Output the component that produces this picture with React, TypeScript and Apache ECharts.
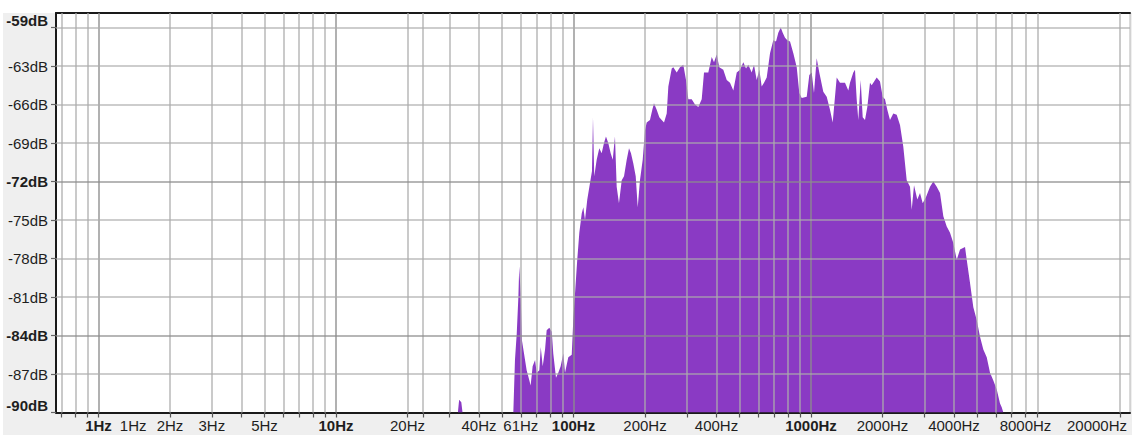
import React, { useEffect, useRef } from "react";
import * as echarts from "echarts";

// Spectrum (frequency in Hz, level in dB)
const specFreq = [
  32.6, 33.0, 33.7, 34.1, 55.8, 56.7, 57.7, 58.6, 59.1, 59.9, 60.7, 61.9, 63.5, 65.2, 66.0, 67.3, 68.9, 70.0,
  71.8, 72.8, 74.2, 75.9, 77.1, 79.1, 81.0, 82.2, 84.4, 86.3, 88.3, 90.6, 92.1, 95.1, 98.3, 99.8, 101.5, 103.7,
  105.8, 108.3, 110.0, 111.8, 114.3, 117.4, 119.6, 120.8, 122.3, 125.2, 128.4, 131.4, 134.4, 137.0, 140.1,
  143.4, 146.3, 149.5, 152.0, 155.4, 159.6, 163.2, 167.5, 171.3, 174.6, 178.6, 182.8, 186.4, 190.5, 195.6,
  200.0, 203.3, 209.9, 214.7, 218.2, 224.0, 229.8, 235.2, 240.5, 246.9, 250.8, 259.2, 263.2, 272.0, 280.8,
  290.0, 297.7, 304.4, 314.6, 324.8, 335.4, 346.6, 354.4, 369.5, 381.9, 390.5, 400.8, 411.1, 427.3, 441.7,
  456.0, 470.9, 486.7, 502.5, 518.8, 532.6, 544.6, 562.8, 575.4, 590.7, 605.8, 620.0, 634.1, 650.9, 672.1,
  693.9, 712.3, 728.4, 745.6, 760.2, 777.4, 794.9, 816.0, 842.6, 870.8, 892.9, 913.9, 959.3, 983.7, 1006.7,
  1029.4, 1056.8, 1083.7, 1126.6, 1164.4, 1202.3, 1234.2, 1282.9, 1324.6, 1390.5, 1435.8, 1459.4, 1506.9,
  1532.0, 1557.3, 1581.9, 1619.1, 1650.8, 1688.1, 1726.2, 1771.7, 1801.3, 1890.6, 1952.0, 2003.9, 2049.2,
  2095.5, 2150.9, 2220.9, 2295.3, 2370.0, 2447.1, 2529.0, 2611.3, 2654.9, 2714.9, 2803.2, 2877.1, 2953.6,
  3049.7, 3170.6, 3273.7, 3383.3, 3493.4, 3607.0, 3727.8, 3849.1, 3974.4, 4107.5, 4241.1, 4451.3, 4525.6,
  4672.8, 4824.8, 4986.3, 5148.5, 5316.0, 5494.0, 5672.8, 5857.3, 6053.4, 6250.4, 6353.3, 6452.3,
];
const specDb = [
  -90, -89.0, -89.2, -90, -90, -85.9, -83.8, -81.0, -78.6, -80.7, -84.4, -85.4, -86.7, -87.5, -87.9, -86.4, -85.9, -86.9,
  -86.7, -84.9, -86.4, -85.1, -83.6, -83.4, -83.7, -85.4, -87.3, -86.9, -86.4, -85.4, -86.9, -85.7, -85.5, -82.8, -80.7, -78.1,
  -76.0, -74.5, -74.0, -75.0, -73.4, -72.1, -71.2, -67.0, -71.6, -70.3, -69.4, -69.8, -69.0, -68.5, -69.0,
  -69.8, -70.3, -68.5, -72.4, -73.7, -71.9, -71.6, -70.3, -69.4, -69.8, -70.6, -71.6, -74.0, -71.9, -70.3,
  -68.0, -67.4, -67.2, -66.4, -65.9, -66.4, -67.0, -67.2, -67.4, -66.7, -64.6, -63.2, -63.1, -63.5, -63.1,
  -62.9, -64.1, -65.6, -65.6, -66.0, -66.2, -65.6, -63.5, -63.5, -62.3, -62.7, -62.1, -63.1, -63.3, -64.1,
  -64.3, -64.9, -63.5, -63.3, -62.7, -63.2, -62.9, -63.5, -62.9, -64.1, -63.3, -64.6, -64.3, -63.9, -62.0,
  -61.0, -61.1, -60.4, -60.0, -60.4, -60.8, -61.0, -61.1, -62.0, -63.1, -65.1, -65.5, -65.4, -63.7, -63.5,
  -65.1, -62.4, -63.5, -65.0, -65.4, -66.4, -67.4, -63.9, -64.3, -64.3, -64.9, -64.3, -63.5,
  -63.3, -65.6, -67.2, -64.1, -67.0, -67.2, -66.2, -64.3, -64.5, -63.9, -64.2, -65.4, -65.6,
  -66.4, -67.2, -66.7, -66.8, -67.6, -69.3, -71.9, -72.4, -74.2, -72.3, -73.4, -72.9, -73.7,
  -73.2, -72.4, -72.0, -72.4, -72.9, -74.7, -75.5, -76.0, -76.8, -78.1, -77.3, -77.1, -78.1,
  -79.9, -81.8, -82.8, -84.1, -85.1, -85.7, -86.9, -87.5, -88.2, -89.3, -89.6, -90.0,
];

// Vertical grid lines (Hz) and the darker decade lines
const gridFreqs = [
  0.7, 0.8, 0.9, 1, 2, 3, 4, 5, 6, 7, 8, 9, 10, 20, 23.3, 30, 40, 50, 60, 70, 80, 90,
  100, 200, 300, 400, 500, 600, 700, 800, 900, 1000, 2000, 3000, 4000, 5000, 6000, 7000, 8000, 9000, 20000,
];
const decadeFreqs = [1, 10, 100, 1000];

// X tick labels
const xLabelValues = [1, 1.4, 2, 3, 5, 10, 20, 40, 60, 100, 200, 400, 1000, 2000, 4000, 8000, 20000];
const xLabelTexts = [
  "1Hz", "1Hz", "2Hz", "3Hz", "5Hz", "10Hz", "20Hz", "40Hz", "61Hz", "100Hz", "200Hz", "400Hz",
  "1000Hz", "2000Hz", "4000Hz", "8000Hz", "20000Hz",
];
const xBoldIdx = [0, 5, 9, 12];

// Y tick labels
const yTickValues = [-90, -87, -84, -81, -78, -75, -72, -69, -66, -63, -60];
const yTickLabels = ["-90dB", "-87dB", "-84dB", "-81dB", "-78dB", "-75dB", "-72dB", "-69dB", "-66dB", "-63dB", "-59dB"];
const yBoldValues = [-90, -84, -72, -60];
const yDarkLines = [-84, -72];

const X_MIN = 0.6624;
const X_MAX = 22036;
const Y_MIN = -90;
const Y_MAX = -58.87;

const PURPLE = "#8a3ac4";
const FONT = "'Liberation Sans', Arial, Helvetica, sans-serif";
const TXT = "#1e1e1e";

export default function App() {
  const ref = useRef<HTMLDivElement>(null);

  useEffect(() => {
    if (!ref.current) return;
    const chart = echarts.init(ref.current, undefined, { renderer: "svg" });

    const light = { color: "rgba(172,172,172,0.8)", width: 1.6, type: "solid" as const };
    const dark = { color: "rgba(140,140,140,0.85)", width: 1.6, type: "solid" as const };

    const vLines = gridFreqs.map((f) => ({
      xAxis: f,
      lineStyle: decadeFreqs.includes(f) ? dark : light,
    }));
    const hLines = yTickValues
      .filter((v) => v > Y_MIN)
      .map((v) => ({ yAxis: v, lineStyle: yDarkLines.includes(v) ? dark : light }));

    const base = { fontSize: 15, fontFamily: FONT, color: TXT };
    const rich = {
      n: { ...base },
      b: { ...base, fontWeight: "bold" as const },
      bu: { ...base, fontWeight: "bold" as const, padding: [0, 0, 14, 0] },
      r: { ...base, padding: [0, 46, 0, 0] },
    };

    const fmtX = (value: number) => {
      const i = xLabelValues.findIndex((v) => Math.abs(Math.log10(v) - Math.log10(value)) < 0.005);
      if (i < 0) return "";
      const t = xLabelTexts[i];
      if (i === xLabelValues.length - 1) return `{r|${t}}`;
      return xBoldIdx.includes(i) ? `{b|${t}}` : `{n|${t}}`;
    };
    const fmtY = (value: number) => {
      const i = yTickValues.findIndex((v) => Math.abs(v - value) < 0.01);
      if (i < 0) return "";
      const t = yTickLabels[i];
      const v = yTickValues[i];
      if (v === -60 || v === -90) return `{bu|${t}}`;
      return yBoldValues.includes(v) ? `{b|${t}}` : `{n|${t}}`;
    };

    chart.setOption({
      animation: false,
      backgroundColor: "#ffffff",
      graphic: [
        { type: "rect", z: -10, silent: true, shape: { x: 3, y: 13, width: 1129, height: 422 }, style: { fill: "#efefef" } },
        { type: "rect", z: -9, silent: true, shape: { x: 56, y: 13, width: 1074, height: 399.5 }, style: { fill: "#ffffff" } },
      ],
      grid: {
        left: 56,
        top: 13,
        width: 1074,
        height: 399.5,
        show: true,
        backgroundColor: "transparent",
        borderColor: "#b5b5b5",
        borderWidth: 1,
      },
      xAxis: [
        {
          type: "log",
          logBase: 10,
          min: X_MIN,
          max: X_MAX,
          position: "bottom",
          axisLine: { show: true, onZero: false, lineStyle: { color: "#1a1a1a", width: 2 } },
          axisTick: { show: true, customValues: gridFreqs, length: 5, lineStyle: { color: "#555", width: 1.2 } },
          axisLabel: { customValues: xLabelValues, margin: 5, formatter: fmtX, rich },
          splitLine: { show: false },
          minorTick: { show: false },
          minorSplitLine: { show: false },
        },
        {
          type: "log",
          logBase: 10,
          min: X_MIN,
          max: X_MAX,
          position: "top",
          axisLine: { show: true, onZero: false, lineStyle: { color: "#1a1a1a", width: 2 } },
          axisTick: { show: false },
          axisLabel: { show: false },
          splitLine: { show: false },
        },
      ],
      yAxis: {
        type: "value",
        min: Y_MIN,
        max: Y_MAX,
        interval: 3,
        axisLine: { show: true, onZero: false, lineStyle: { color: "#1a1a1a", width: 2 } },
        axisTick: { show: true, customValues: yTickValues, length: 5, lineStyle: { color: "#666", width: 1.2 } },
        axisLabel: { customValues: yTickValues, margin: 8, formatter: fmtY, rich },
        splitLine: { show: false },
      },
      series: [
        {
          type: "line",
          xAxisIndex: 0,
          data: specFreq.map((f, i) => [f, specDb[i]]),
          showSymbol: false,
          symbol: "none",
          silent: true,
          lineStyle: { width: 0, opacity: 0 },
          areaStyle: { color: PURPLE, opacity: 1, origin: "start" },
          markLine: {
            silent: true,
            symbol: ["none", "none"],
            label: { show: false },
            emphasis: { disabled: true },
            data: [...vLines, ...hLines],
          },
        },
      ],
    });

    return () => chart.dispose();
  }, []);

  return (
    <div
      ref={ref}
      style={{ position: "fixed", left: 0, top: 0, width: 1132, height: 435, background: "#fff" }}
    />
  );
}
